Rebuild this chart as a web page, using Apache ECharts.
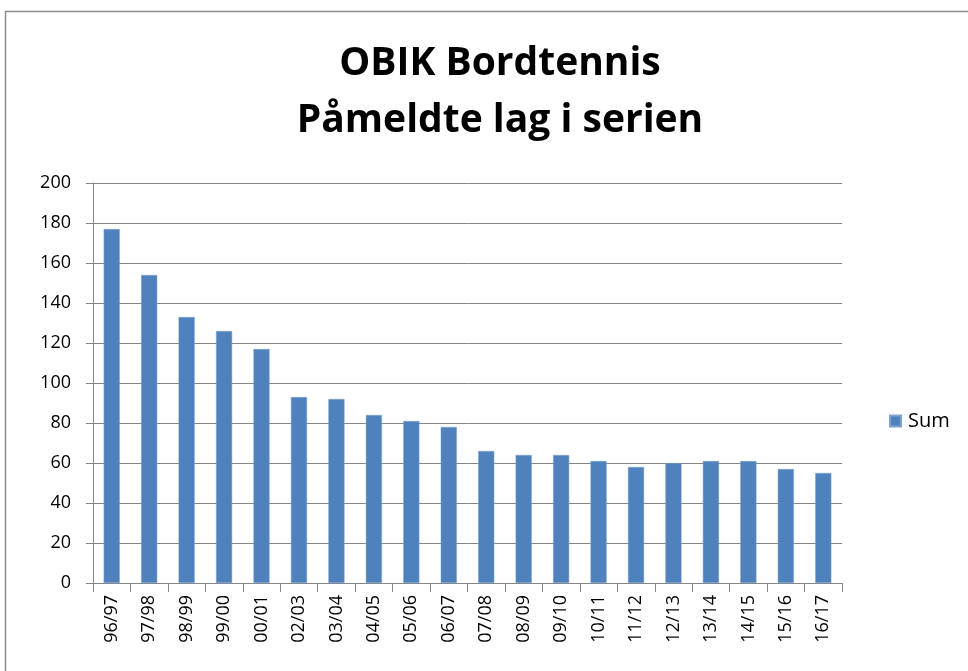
<!DOCTYPE html>
<html>
<head>
<meta charset="utf-8">
<script src="https://cdn.jsdelivr.net/npm/echarts@6/dist/echarts.min.js"></script>
<style>
  html, body { margin: 0; padding: 0; background: #fff; }
  #chart { width: 968px; height: 671px; }
</style>
</head>
<body>
<div id="chart"></div>
<script>
// sesonger og antall påmeldte lag
var seasons = ['96/97', '97/98', '98/99', '99/00', '00/01', '02/03', '03/04', '04/05', '05/06', '06/07',
    '07/08', '08/09', '09/10', '10/11', '11/12', '12/13', '13/14', '14/15', '15/16', '16/17'];
var sumValues = [177, 154, 133, 126, 117, 93, 92, 84, 81, 78,
    66, 64, 64, 61, 58, 60, 61, 61, 57, 55];
var titleLines = ['OBIK Bordtennis', 'Påmeldte lag i serien'];

var chart = echarts.init(document.getElementById('chart'));
var fontName = 'Open Sans';

var option = {
    animation: false,
    backgroundColor: '#fff',
    graphic: [{
        type: 'rect',
        shape: { x: 5.5, y: 11.5, width: 1000, height: 700 },
        style: { fill: 'none', stroke: '#8c8c8c', lineWidth: 1.5 },
        silent: true
    }],
    title: {
        text: titleLines.join('\n'),
        left: 495,
        textAlign: 'center',
        top: 30,
        textStyle: {
            fontFamily: fontName,
            fontWeight: 'bold',
            fontSize: 39,
            lineHeight: 57,
            color: '#000'
        }
    },
    legend: {
        data: ['Sum'],
        left: 884,
        top: 406,
        orient: 'vertical',
        itemWidth: 11,
        itemHeight: 11,
        itemGap: 8,
        icon: 'rect',
        textStyle: { fontFamily: fontName, fontSize: 20, color: '#000', padding: [0, 0, 0, 2] }
    },
    grid: {
        left: 93,
        right: 126,
        top: 183,
        bottom: 88,
        containLabel: false
    },
    xAxis: {
        type: 'category',
        data: seasons,
        axisLine: { lineStyle: { color: '#868686', width: 1 } },
        axisTick: { show: true, length: 9, alignWithLabel: false, lineStyle: { color: '#868686' } },
        axisLabel: {
            rotate: 90,
            interval: 0,
            margin: 12,
            fontFamily: fontName,
            fontSize: 18,
            color: '#000'
        },
        splitLine: { show: false }
    },
    yAxis: {
        type: 'value',
        min: 0,
        max: 200,
        interval: 20,
        axisLine: { show: true, lineStyle: { color: '#868686', width: 1 } },
        axisTick: { show: true, length: 7, inside: false, lineStyle: { color: '#868686' } },
        axisLabel: {
            margin: 22,
            fontFamily: fontName,
            fontSize: 18,
            color: '#000'
        },
        splitLine: { show: true, lineStyle: { color: '#868686', width: 1 } }
    },
    series: [{
        name: 'Sum',
        type: 'bar',
        data: sumValues,
        barWidth: '43%',
        itemStyle: { color: '#4f81bd', borderColor: '#7fa3d0', borderWidth: 0.5 }
    }]
};
chart.setOption(option);
</script>
</body>
</html>
